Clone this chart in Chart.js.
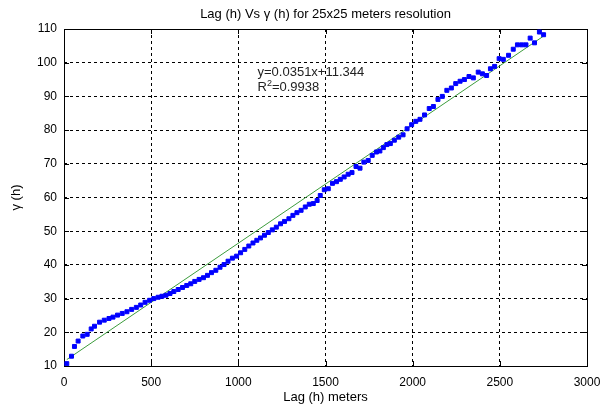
<!DOCTYPE html>
<html>
<head>
<meta charset="utf-8">
<script src="https://cdn.jsdelivr.net/npm/chart.js@4/dist/chart.umd.min.js"></script>
<style>
html,body{margin:0;padding:0;background:#fff;}
#wrap{width:601px;height:406px;position:relative;}
</style>
</head>
<body>
<div id="wrap"><canvas id="c" width="601" height="406"></canvas></div>
<script>
// ---- data ----
const lags = [16,43,60,81,108,133,156,175,204,231,258,281,307,334,361,388,415,440,465,491,
  515,540,562,585,608,630,655,680,704,727,750,775,800,823,846,871,895,918,941,966,990,
  1013,1037,1060,1084,1106,1127,1150,1172,1195,1218,1242,1265,1290,1313,1336,1360,1384,1407,1430,1452,1470,1493,
  1516,1540,1563,1585,1607,1630,1652,1675,1698,1720,1745,1768,1792,1812,1832,1852,1872,1895,1920,1945,1968,1994,
  2018,2042,2068,2095,2119,2145,2170,2196,2222,2247,2272,2297,2323,2348,2376,2400,2424,2446,2470,2496,
  2520,2550,2577,2601,2626,2650,2674,2699,2727,2751];
const gamma = [10.7,12.9,15.8,17.4,18.9,19.4,21.0,21.8,23.0,23.6,24.1,24.5,25.1,25.6,26.1,26.8,27.4,28.1,28.9,29.5,
  30.0,30.4,30.7,31.0,31.5,32.1,32.7,33.3,33.9,34.4,35.1,35.7,36.2,36.9,37.7,38.4,39.3,40.1,41.1,42.0,42.6,
  43.6,44.6,45.6,46.5,47.3,48.0,48.8,49.6,50.4,51.2,52.2,52.9,53.7,54.7,55.5,56.2,57.2,58.0,58.2,59.1,60.6,62.3,
  62.6,64.2,64.7,65.4,66.1,66.9,67.4,69.2,68.7,70.5,71.0,72.5,73.5,73.8,74.8,75.7,76.0,77.0,77.9,78.6,80.4,81.6,
  82.6,83.2,84.5,86.4,87.0,89.1,90.0,91.8,92.5,93.8,94.5,95.0,95.9,95.5,97.2,96.7,96.2,98.2,98.9,101.2,
  101.0,102.2,104.0,105.3,105.3,105.3,107.3,105.9,109.1,108.3];
const fitSlope = 0.0351;
const fitIntercept = 11.344;
const r2 = 0.9938;
const xTicks = [0,500,1000,1500,2000,2500,3000];
const yTicks = [10,20,30,40,50,60,70,80,90,100,110];
const titleText = 'Lag (h) Vs \u03b3 (h) for 25x25 meters resolution';
const xLabel = 'Lag (h) meters';
const yLabel = '\u03b3 (h)';
const eqText = 'y=' + fitSlope + 'x+' + fitIntercept;

const FONT = '"Liberation Sans", Arial, sans-serif';

const pts = lags.map((l, i) => ({x: l, y: gamma[i]}));
const fitEnds = [lags[0], lags[lags.length - 1]];
const fitPts = fitEnds.map(x => ({x: x, y: fitSlope * x + fitIntercept}));

const decor = {
  id: 'decor',
  beforeDatasetsDraw(chart) {
    const {ctx, chartArea: a, scales: {x, y}} = chart;
    ctx.save();
    ctx.strokeStyle = '#000';
    ctx.lineWidth = 1;
    ctx.setLineDash([]);
    ctx.beginPath();
    xTicks.forEach(v => {
      const px = Math.round(x.getPixelForValue(v)) + 0.5;
      ctx.moveTo(px, a.bottom); ctx.lineTo(px, a.bottom - 5);
      ctx.moveTo(px, a.top); ctx.lineTo(px, a.top + 5);
    });
    yTicks.forEach(v => {
      const py = Math.round(y.getPixelForValue(v)) + 0.5;
      ctx.moveTo(a.left, py); ctx.lineTo(a.left + 5, py);
      ctx.moveTo(a.right, py); ctx.lineTo(a.right - 5, py);
    });
    ctx.stroke();
    ctx.strokeRect(Math.round(a.left) + 0.5, Math.round(a.top) + 0.5,
      Math.round(a.right - a.left), Math.round(a.bottom - a.top));
    ctx.restore();
  },
  afterDraw(chart) {
    const {ctx, chartArea: a, scales: {x, y}} = chart;
    ctx.save();
    ctx.fillStyle = '#000';
    ctx.textAlign = 'center';
    ctx.textBaseline = 'middle';
    ctx.font = '13px ' + FONT;
    ctx.fillText(titleText, (a.left + a.right) / 2, 14);
    ctx.fillText(xLabel, (a.left + a.right) / 2, 397);
    ctx.save();
    ctx.translate(16, (a.top + a.bottom) / 2);
    ctx.rotate(-Math.PI / 2);
    ctx.fillText(yLabel, 0, 0);
    ctx.restore();
    // regression annotation
    ctx.fillStyle = '#222';
    ctx.textAlign = 'left';
    ctx.font = '13px ' + FONT;
    const tx = x.getPixelForValue(1110);
    ctx.fillText(eqText, tx, y.getPixelForValue(97.1));
    const ry = y.getPixelForValue(92.7);
    ctx.fillText('R', tx, ry);
    const rw = ctx.measureText('R').width;
    ctx.font = '9px ' + FONT;
    ctx.fillText('2', tx + rw, ry - 4);
    const sw = ctx.measureText('2').width;
    ctx.font = '13px ' + FONT;
    ctx.fillText('=' + r2, tx + rw + sw, ry);
    ctx.restore();
  }
};

new Chart(document.getElementById('c'), {
  type: 'scatter',
  data: {
    datasets: [
      {
        label: 'fit',
        data: fitPts,
        showLine: true,
        borderColor: '#3c9c3c',
        borderWidth: 1,
        pointRadius: 0,
        order: 2
      },
      {
        label: 'gamma',
        data: pts,
        showLine: false,
        pointStyle: 'rect',
        pointRadius: 2.8,
        pointBorderWidth: 1,
        pointBackgroundColor: '#0000ff',
        pointBorderColor: '#0000ff',
        order: 1
      }
    ]
  },
  plugins: [decor],
  options: {
    responsive: false,
    animation: false,
    devicePixelRatio: 1,
    layout: {padding: {top: 29, right: 0, left: 0, bottom: 0}},
    plugins: {legend: {display: false}, title: {display: false}, tooltip: {enabled: false}},
    scales: {
      x: {
        type: 'linear',
        min: 0, max: 3000,
        afterBuildTicks(s) { s.ticks = xTicks.map(v => ({value: v})); },
        afterFit(s) { s.height = 40; s.paddingRight = 14; s.paddingLeft = 0; },
        ticks: {color: '#000', font: {family: FONT, size: 12}, padding: 9, maxRotation: 0,
          callback: v => String(v)},
        grid: {color: '#000', lineWidth: 1, drawTicks: false},
        border: {display: false, dash: [3, 3]}
      },
      y: {
        type: 'linear',
        min: 10, max: 110,
        afterBuildTicks(s) { s.ticks = yTicks.map(v => ({value: v})); },
        afterFit(s) { s.width = 64; s.paddingTop = 0; s.paddingBottom = 0; },
        ticks: {color: '#000', font: {family: FONT, size: 12}, padding: 7,
          callback: v => String(v)},
        grid: {color: '#000', lineWidth: 1, drawTicks: false},
        border: {display: false, dash: [3, 3]}
      }
    }
  }
});
</script>
</body>
</html>
